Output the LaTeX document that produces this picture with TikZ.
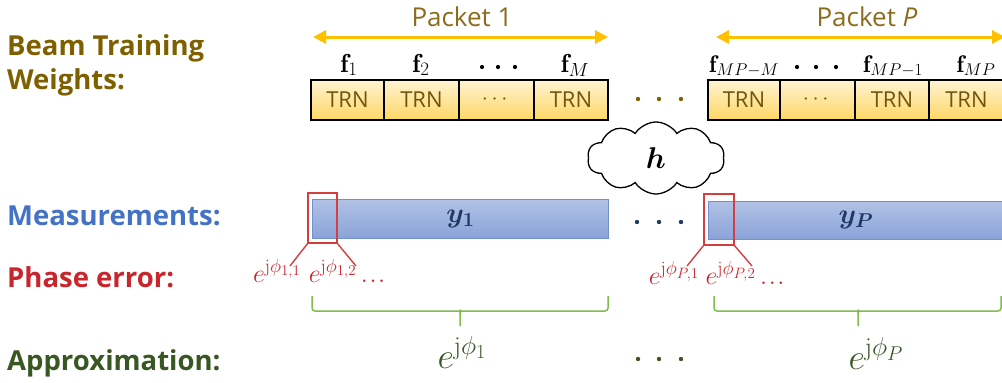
\RequirePackage{fix-cm}
\documentclass[tikz,border=0pt]{standalone}
\usepackage{amsmath,bm}
\usepackage{fontspec}
\newfontfamily\lblfont{Open Sans}
\usetikzlibrary{shapes.symbols,arrows.meta}

% math sizes for the large labels: {text}{text}{script}{scriptscript}
\DeclareMathSizes{24}{24}{17}{13}
\DeclareMathSizes{25}{25}{18}{14}
\DeclareMathSizes{26}{26}{19}{15}
\DeclareMathSizes{28}{28}{20}{16}
\DeclareMathSizes{30}{30}{21}{16}
\DeclareMathSizes{36}{36}{26}{20}

\definecolor{brownT}{RGB}{127,96,0}
\definecolor{pktT}{RGB}{140,108,28}
\definecolor{trnT}{RGB}{112,86,10}
\definecolor{orangeA}{RGB}{255,192,0}
\definecolor{trnTop}{RGB}{255,244,210}
\definecolor{trnBot}{RGB}{255,214,100}
\definecolor{measT}{RGB}{68,114,196}
\definecolor{barTop}{RGB}{178,194,230}
\definecolor{barBot}{RGB}{138,163,216}
\definecolor{barEdge}{RGB}{112,144,210}
\definecolor{navyT}{RGB}{31,56,100}
\definecolor{phaseT}{RGB}{200,38,45}
\definecolor{redBox}{RGB}{214,62,62}
\definecolor{greenT}{RGB}{56,87,35}
\definecolor{braceG}{RGB}{128,188,78}

\newcommand{\lowdots}{\mathinner{.\kern1.5pt.\kern1.5pt.}}

\begin{document}
\begin{tikzpicture}[x=1pt,y=-1pt,
  rowlbl/.style={inner sep=0pt, anchor=base west, font=\lblfont\bfseries\fontsize{27.5}{30}\selectfont},
  pktlbl/.style={inner sep=0pt, anchor=base, text=pktT, font=\lblfont\fontsize{26}{28}\selectfont},
  pkarrow/.style={draw=orangeA, line width=3pt, {Triangle[length=13pt,width=13pt]}-{Triangle[length=13pt,width=13pt]}},
  flbl/.style={inner sep=0pt, anchor=base, font=\fontsize{26}{28}\selectfont},
  flblsm/.style={inner sep=0pt, anchor=base, font=\fontsize{24}{28}\selectfont},
  trn/.style={draw=black, line width=1.3pt, top color=trnTop, bottom color=trnBot,
    minimum height=40pt, inner sep=0pt, text=trnT, font=\lblfont\fontsize{22}{24}\selectfont},
  bar/.style={draw=barEdge, line width=0.8pt, top color=barTop, bottom color=barBot,
    inner sep=0pt, text=navyT, font=\fontsize{28}{30}\selectfont},
  redbox/.style={draw=redBox, line width=1.4pt},
  phlbl/.style={inner sep=0pt, anchor=base, text=phaseT, font=\fontsize{26}{28}\selectfont},
  brace/.style={draw=braceG, line width=1.5pt},
  aplbl/.style={inner sep=0pt, anchor=base, text=greenT, font=\fontsize{36}{40}\selectfont},
]
\useasboundingbox (0,0) rectangle (1002,383);

% row titles
\node[rowlbl, text=brownT] (bt) at (7,55) {Beam Training};
\node[rowlbl, text=brownT] (wt) at (7,89) {Weights:};
\node[rowlbl, text=measT] (ms) at (7,225) {Measurements:};
\node[rowlbl, text=phaseT] (pe) at (7,287) {Phase error:};
\node[rowlbl, text=greenT] (ap) at (7,370) {Approximation:};

% packet spans
\node[pktlbl] (pk1) at (462,26) {Packet 1};
\node[pktlbl] (pkP) at (867,26) {Packet {\itshape P}};
\coordinate (a1l) at (313,37);
\coordinate (a1r) at (608,37);
\coordinate (aPl) at (716,37);
\coordinate (aPr) at (1005,37);
\draw[pkarrow] (a1l) -- (a1r);
\draw[pkarrow] (aPl) -- (aPr);

% beam training weights of packet 1
\node[trn, minimum width=73pt] (t11) at (347.5,100) {TRN};
\node[trn, minimum width=75pt] (t12) at (421.5,100) {TRN};
\node[trn, minimum width=75pt] (t13) at (496.5,100) {$\cdots$};
\node[trn, minimum width=74pt] (t14) at (571,100) {TRN};
\node[flbl] (f1) at (349,72) {$\mathbf{f}_{1}$};
\node[flbl] (f2) at (421,72) {$\mathbf{f}_{2}$};
\node[flbl] (fM) at (575,72) {$\mathbf{f}_{M}$};
\foreach \x in {482,498,515} \fill (\x,67) circle (2.1pt);

% beam training weights of packet P
\node[trn, minimum width=72pt] (tP1) at (744,100) {TRN};
\node[trn, minimum width=75pt] (tP2) at (817.5,100) {$\cdots$};
\node[trn, minimum width=74pt] (tP3) at (892,100) {TRN};
\node[trn, minimum width=75pt] (tP4) at (966.5,100) {TRN};
\node[flblsm] (fa) at (744,72) {$\mathbf{f}_{MP-M}$};
\node[flblsm] (fb) at (893,72) {$\mathbf{f}_{MP-1}$};
\node[flblsm] (fc) at (976,72) {$\mathbf{f}_{MP}$};
\foreach \x in {797,816,836} \fill (\x,67) circle (2.1pt);

% gap between packets
\foreach \x in {638,659,681} \fill[brownT] (\x,99) circle (2.2pt);

% channel
\node[cloud, draw, cloud puffs=10, cloud puff arc=115, aspect=1.9,
  minimum width=137pt, minimum height=72pt, line width=1.3pt, fill=white,
  inner sep=0pt, font=\fontsize{30}{32}\selectfont] (ch) at (656,158) {$\bm{h}$};

% measurements
\node[bar, minimum width=296pt, minimum height=39pt] (y1) at (460.5,218.5) {$\bm{y_1}$};
\node[bar, minimum width=296pt, minimum height=38pt] (yP) at (856,220) {$\bm{y_P}$};
\foreach \x in {637,659,681} \fill[navyT] (\x,222) circle (2.2pt);

% zoom on the first sample of each measurement
\draw[redbox] (308,193) rectangle (337,243);
\draw[redbox] (308,243) -- (290,266);
\draw[redbox] (337,243) -- (356,266);
\draw[redbox] (704,194) rectangle (734,245);
\draw[redbox] (704,245) -- (687,266);
\draw[redbox] (734,245) -- (752,266);

% phase errors
\node[phlbl] (e11) at (277,282) {$e^{\mathrm{j}\phi_{1,1}}$};
\node[phlbl] (e12) at (347,282) {$e^{\mathrm{j}\phi_{1,2}}\lowdots$};
\node[phlbl] (eP1) at (674,284) {$e^{\mathrm{j}\phi_{P,1}}$};
\node[phlbl] (eP2) at (745,284) {$e^{\mathrm{j}\phi_{P,2}}\lowdots$};

% grouping braces
\draw[brace, rounded corners=3pt] (312,296) -- (312,311) -- (457,311) to[out=0,in=90] (460,314) -- (460,326);
\draw[brace, rounded corners=3pt] (460,314) to[out=90,in=180] (463,311) -- (608,311) -- (608,296);
\draw[brace, rounded corners=3pt] (714,296) -- (714,311) -- (855,311) to[out=0,in=90] (858,314) -- (858,326);
\draw[brace, rounded corners=3pt] (858,314) to[out=90,in=180] (861,311) -- (1001,311) -- (1001,296);

% approximations
\node[aplbl] (ap1) at (462,368) {$e^{\mathrm{j}\phi_1}$};
\node[aplbl] (apP) at (876,369) {$e^{\mathrm{j}\phi_P}$};
\foreach \x in {638,659,681} \fill[greenT] (\x,359) circle (2.2pt);
\end{tikzpicture}
\end{document}
